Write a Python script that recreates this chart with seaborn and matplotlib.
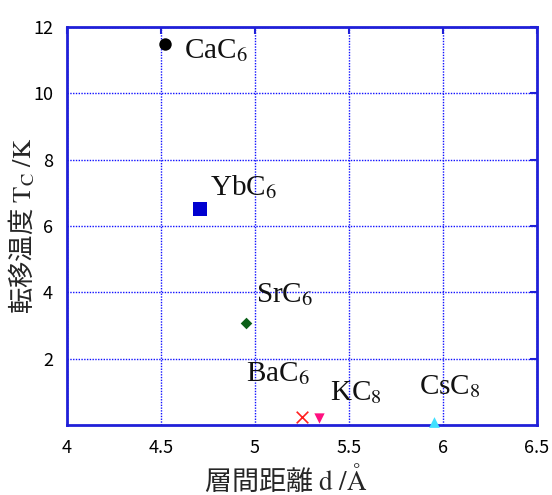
import matplotlib
matplotlib.use("Agg")
import matplotlib.pyplot as plt
import seaborn as sns
import pandas as pd

# data
compounds = ["CaC6", "YbC6", "SrC6", "BaC6", "KC8", "CsC8"]
labels = ["CaC$_6$", "YbC$_6$", "SrC$_6$", "BaC$_6$", "KC$_8$", "CsC$_8$"]
d_spacing = [4.52, 4.71, 4.95, 5.25, 5.34, 5.95]
tc = [11.5, 6.5, 3.07, 0.25, 0.2, 0.1]
x_ticks = [4, 4.5, 5, 5.5, 6, 6.5]
y_ticks = [2, 4, 6, 8, 10, 12]

colors = {"CaC6": "#000000", "YbC6": "#0000d0", "SrC6": "#0b6018",
          "BaC6": "#ff2020", "KC8": "#ff1080", "CsC8": "#40e0ff"}
markers = {"CaC6": "o", "YbC6": "s", "SrC6": "D", "BaC6": "x",
           "KC8": "v", "CsC8": "^"}
sizes = {"CaC6": 80, "YbC6": 110, "SrC6": 35, "BaC6": 70, "KC8": 55, "CsC8": 60}
label_pos = {"CaC6": (4.62, 11.07), "YbC6": (4.76, 6.93), "SrC6": (5.005, 3.71),
             "BaC6": (4.95, 1.31), "KC8": (5.40, 0.75), "CsC8": (5.87, 0.93)}

df = pd.DataFrame({"compound": compounds, "d": d_spacing, "tc": tc})

sns.set_theme(style="white")
plt.rcParams["font.family"] = ["Noto Sans CJK JP", "DejaVu Sans"]
plt.rcParams["mathtext.fontset"] = "stix"

fig = plt.figure(figsize=(5.52, 4.95), dpi=100)
ax = fig.add_axes([67/552, 1-425/495, 470/552, 398/495])

for c in compounds:
    sub = df[df.compound == c]
    sns.scatterplot(data=sub, x="d", y="tc", ax=ax, color=colors[c],
                    marker=markers[c], s=sizes[c], edgecolor=colors[c] if markers[c] != "x" else None,
                    linewidth=1.2 if markers[c] == "x" else 0, legend=False, zorder=5, clip_on=False)

for c, lab in zip(compounds, labels):
    x, y = label_pos[c]
    ax.text(x, y, lab, fontsize=21, family="Liberation Serif", va="baseline", ha="left",
            color="#111111", zorder=6)

ax.set_xlim(4, 6.5)
ax.set_ylim(0, 12)
ax.set_xticks(x_ticks)
ax.set_xticklabels([f"{v:g}" for v in x_ticks])
ax.set_yticks(y_ticks)
ax.set_yticklabels([f"{v:g}" for v in y_ticks])

blue = "#2020d8"
ax.grid(True, color="#1010ff", linestyle=(0, (1, 1)), linewidth=1.0)
for sp in ax.spines.values():
    sp.set_color(blue)
    sp.set_linewidth(2)
ax.tick_params(axis="both", direction="in", length=5, width=1.5, color=blue,
               top=True, right=True, labelsize=13, pad=10, labelcolor="black")

ax.set_xlabel(r"層間距離 $\mathrm{d\ /Å}$", fontsize=19.5)
ax.set_ylabel(r"転移温度 $\mathrm{T_C\ /K}$", fontsize=19)
ax.xaxis.set_label_coords(0.466, -0.098)
ax.yaxis.set_label_coords(-0.064, 0.5)

fig.savefig("out.png", dpi=100)
